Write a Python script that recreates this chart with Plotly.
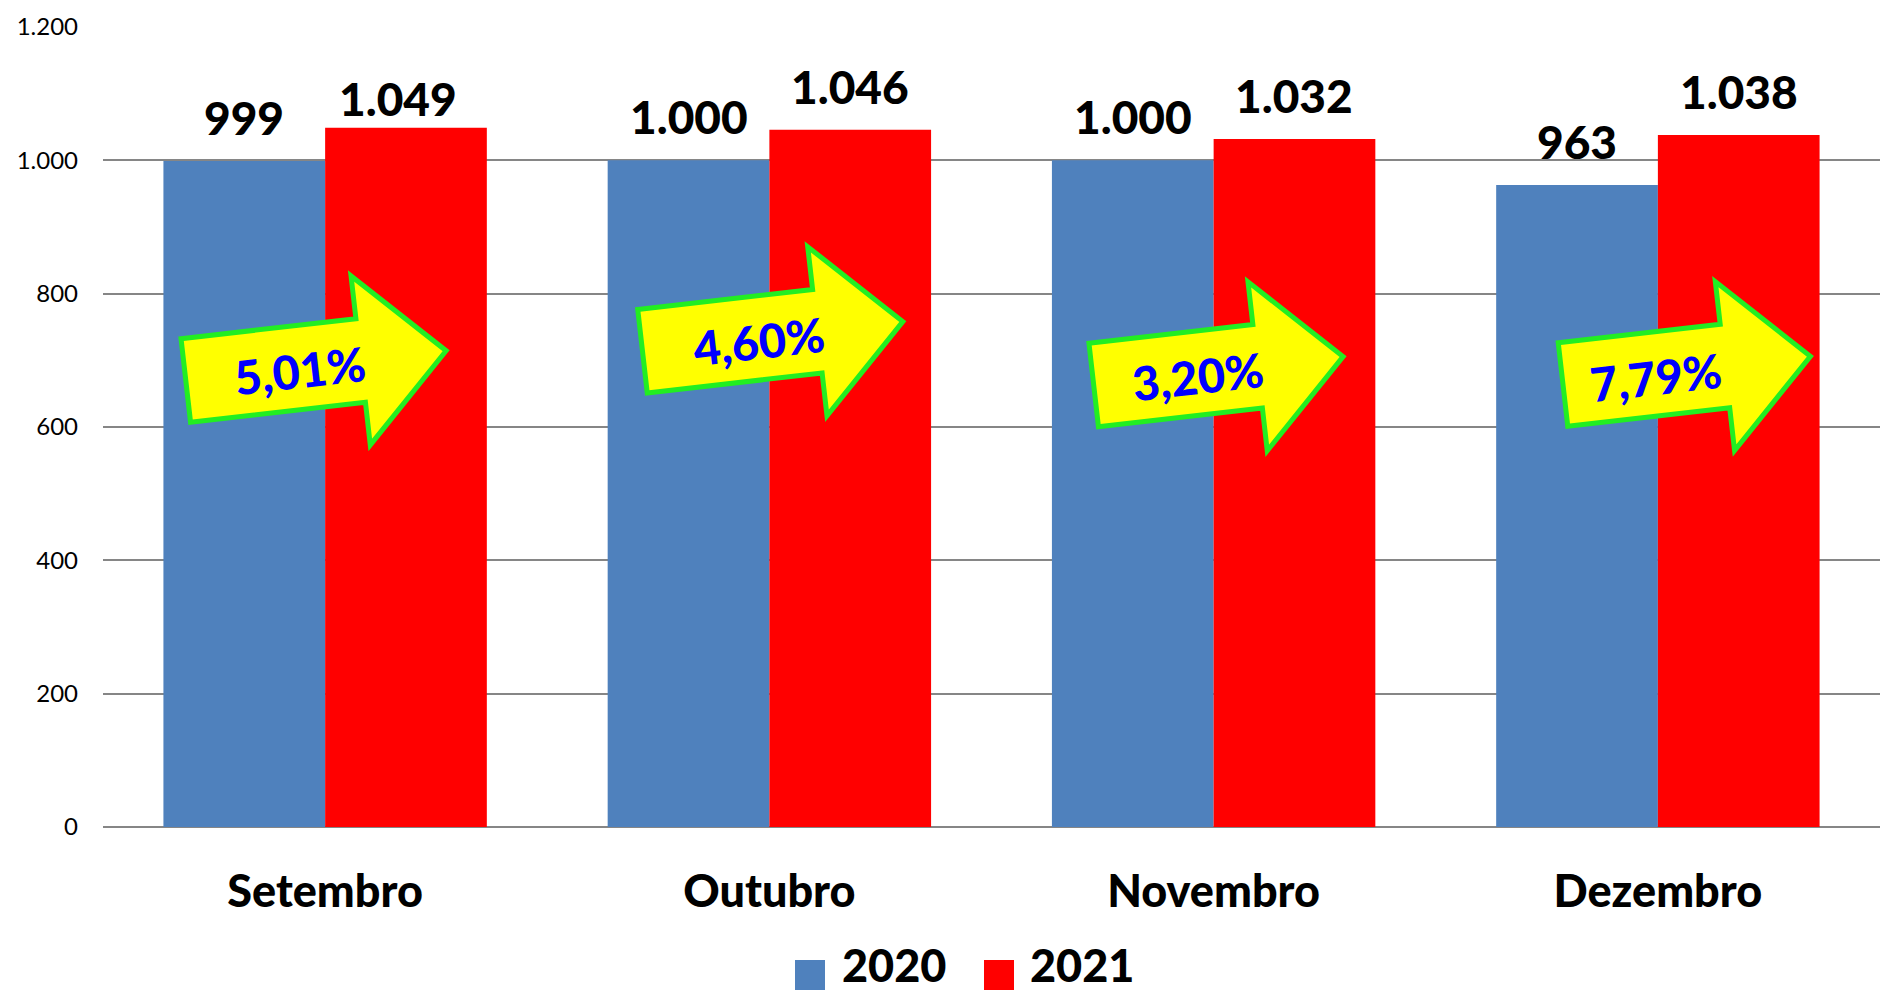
import math
import plotly.graph_objects as go

# ---- data -------------------------------------------------------------
meses = ["Setembro", "Outubro", "Novembro", "Dezembro"]
anos = ["2020", "2021"]
valores_2020 = [999, 1000, 1000, 963]
valores_2021 = [1049, 1046, 1032, 1038]
cores = {"2020": "#4F81BD", "2021": "#FF0000"}

# ---- page geometry (px) ------------------------------------------------
W, H = 1880, 994
ML, MR, MT, MB = 103, 0, 27, 167
PW, PH = W - ML - MR, H - MT - MB
FONT = "Lato"
PESO = 900


def paper(px, py):
    """pixel position on the page -> paper coordinates of the plot area"""
    return (px - ML) / PW, (H - MB - py) / PH


def fmt_milhar(v):
    return f"{v:,}".replace(",", ".")


fig = go.Figure()
for ano, vals in zip(anos, [valores_2020, valores_2021]):
    fig.add_trace(go.Bar(
        name=ano, x=meses, y=vals,
        marker=dict(color=cores[ano], line=dict(width=0)),
        showlegend=False, hoverinfo="x+y",
    ))

# value labels above each bar
BAR_HALF = (1 - 0.272) / 4          # centre offset of each bar within a group
ajustes = {("2021", 0): (-8, -14)}  # hand-placed label (dx, dy) in px
annotations = []
for k, (ano, vals) in enumerate(zip(anos, [valores_2020, valores_2021])):
    off = -BAR_HALF if k == 0 else BAR_HALF
    for i, v in enumerate(vals):
        dx, dy = ajustes.get((ano, i), (0, 0))
        annotations.append(dict(
            x=i + off, y=v, xref="x", yref="y",
            text=fmt_milhar(v), showarrow=False,
            xanchor="center", yanchor="bottom",
            xshift=dx, yshift=14 + dy,
            font=dict(family=FONT, size=46, color="#000000", weight=PESO),
        ))

# growth arrows: tail midpoint (px), length, text position along the arrow
setas = [
    (185.8, 380.4, 262, 115),
    (642.5, 351.2, 262, 117),
    (1093.7, 385.0, 251, 105),
    (1563.0, 384.5, 249, 93),
]
ANG = 6.5
ux, uy = math.cos(math.radians(ANG)), -math.sin(math.radians(ANG))
nx, ny = math.sin(math.radians(ANG)), math.cos(math.radians(ANG))
SHAFT, HEAD_W, HEAD_L = 42, 85, 86

shapes = []
for (tx, ty, comp, txt_s), a, b in zip(setas, valores_2020, valores_2021):
    local = [(0, -SHAFT), (comp - HEAD_L, -SHAFT), (comp - HEAD_L, -HEAD_W),
             (comp, 0), (comp - HEAD_L, HEAD_W), (comp - HEAD_L, SHAFT), (0, SHAFT)]
    pts = []
    for s, t in local:
        px = tx + s * ux + t * nx
        py = ty + s * uy + t * ny
        pts.append(paper(px, py))
    path = "M " + " L ".join(f"{x:.5f},{y:.5f}" for x, y in pts) + " Z"
    shapes.append(dict(type="path", path=path, xref="paper", yref="paper",
                       fillcolor="#FFFF00", line=dict(color="#22EE22", width=5),
                       layer="above"))
    cx, cy = paper(tx + txt_s * ux + 3 * nx, ty + txt_s * uy + 3 * ny)
    pct = (b / a - 1) * 100
    annotations.append(dict(
        x=cx, y=cy, xref="paper", yref="paper", showarrow=False,
        text=f"{pct:.2f}%".replace(".", ","), textangle=-ANG,
        xanchor="center", yanchor="middle",
        font=dict(family=FONT, size=47, color="#0000FF", weight=PESO),
    ))

# legend drawn as square swatches with labels
legenda = [(795, 840), (984, 1028)]
for ano, (sx, lx) in zip(anos, legenda):
    x0, y0 = paper(sx, 990)
    x1, y1 = paper(sx + 30, 960)
    shapes.append(dict(type="rect", xref="paper", yref="paper",
                       x0=x0, y0=y0, x1=x1, y1=y1,
                       fillcolor=cores[ano], line=dict(width=0)))
    ax, ay = paper(lx, 965)
    annotations.append(dict(
        x=ax, y=ay, xref="paper", yref="paper", showarrow=False,
        text=ano, xanchor="left", yanchor="middle",
        font=dict(family=FONT, size=45, color="#000000", weight=PESO),
    ))

fig.update_layout(
    width=W, height=H,
    margin=dict(l=ML, r=MR, t=MT, b=MB, pad=0),
    paper_bgcolor="white", plot_bgcolor="white",
    barmode="group", bargap=0.272, bargroupgap=0,
    separators=",.",
    showlegend=False,
    shapes=shapes, annotations=annotations,
    xaxis=dict(
        showgrid=False, showline=False, ticks="",
        tickfont=dict(family=FONT, size=45, color="#000000", weight=PESO),
        ticklabelstandoff=34,
    ),
    yaxis=dict(
        range=[0, 1200], dtick=200, tickformat=",",
        showgrid=True, gridcolor="#868686", gridwidth=2,
        zeroline=True, zerolinecolor="#868686", zerolinewidth=2,
        showline=False, ticks="",
        tickfont=dict(family=FONT, size=24, color="#000000"),
        ticklabelstandoff=24,
    ),
)

fig.write_html("out.html")
